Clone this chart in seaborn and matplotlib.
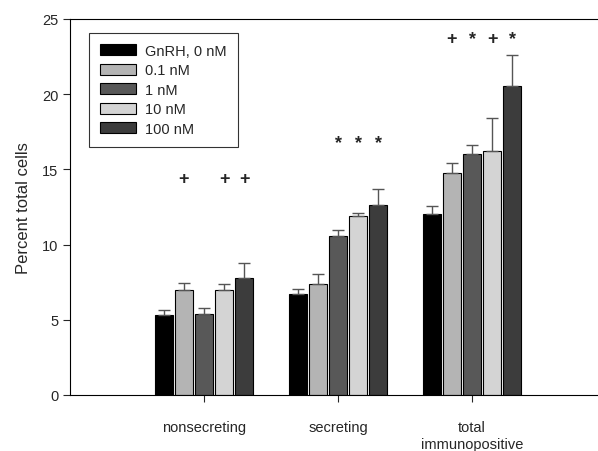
import matplotlib
matplotlib.use("Agg")
import matplotlib.pyplot as plt
import seaborn as sns
import pandas as pd
import numpy as np

sns.set_style("white")
plt.rcParams['font.family'] = ['Liberation Sans', 'DejaVu Sans']

categories = ["nonsecreting", "secreting", "total\nimmunopositive"]
doses = ["GnRH, 0 nM", "0.1 nM", "1 nM", "10 nM", "100 nM"]
means = {
    "GnRH, 0 nM": [5.3, 6.7, 12.0],
    "0.1 nM": [7.0, 7.4, 14.75],
    "1 nM": [5.4, 10.55, 16.0],
    "10 nM": [6.95, 11.9, 16.25],
    "100 nM": [7.8, 12.6, 20.55],
}
errors = {
    "GnRH, 0 nM": [0.32, 0.35, 0.55],
    "0.1 nM": [0.45, 0.65, 0.7],
    "1 nM": [0.35, 0.42, 0.6],
    "10 nM": [0.4, 0.2, 2.15],
    "100 nM": [1.0, 1.12, 2.05],
}
marks = {
    "GnRH, 0 nM": ["", "", ""],
    "0.1 nM": ["+", "", "+"],
    "1 nM": ["", "*", "*"],
    "10 nM": ["+", "*", "+"],
    "100 nM": ["+", "*", "*"],
}
mark_heights = [14.4, 16.8, 23.7]
colors = ["#000000", "#b4b4b4", "#585858", "#d4d4d4", "#3c3c3c"]

rows = []
for d in doses:
    for c, m in zip(categories, means[d]):
        rows.append({"cat": c, "dose": d, "value": m})
df = pd.DataFrame(rows)

fig = plt.figure(figsize=(5.98, 4.52), dpi=100)
ax = fig.add_axes([0.117, 0.124, 0.883, 0.832])

sns.barplot(data=df, x="cat", y="value", hue="dose", order=categories,
            hue_order=doses, palette=colors, width=0.75, gap=0.12,
            edgecolor="black", linewidth=0.8, errorbar=None, ax=ax)

for d, cont in zip(doses, ax.containers):
    xs = [p.get_x() + p.get_width() / 2 for p in cont.patches]
    ax.errorbar(xs, means[d], yerr=[np.zeros(3), errors[d]], fmt="none",
                ecolor="#555555", elinewidth=1.0, capsize=4, capthick=1.0)
    for x, m, h in zip(xs, marks[d], mark_heights):
        if m:
            ax.text(x, h, m, ha="center", va="center", fontsize=13,
                    fontweight="bold", zorder=10)

ax.set_ylim(0, 25)
ax.set_xlim(-1.0, 2.94)
ax.set_yticks([0, 5, 10, 15, 20, 25])
ax.set_ylabel("Percent total cells", fontsize=12, labelpad=8)
ax.set_xlabel("")
ax.tick_params(axis="y", direction="out", length=5, width=0.8, labelsize=10.5, left=True)
ax.tick_params(axis="x", direction="out", length=5, width=0.8, labelsize=10.5,
               bottom=True, pad=13)
for lab in ax.get_xticklabels():
    lab.set_linespacing(1.3)
for s in ["left", "top", "bottom"]:
    ax.spines[s].set_color("black")
    ax.spines[s].set_linewidth(0.8)
ax.spines["right"].set_visible(False)

leg = ax.legend(loc="upper left", bbox_to_anchor=(0.036, 0.963), borderaxespad=0,
                frameon=True, fancybox=False, edgecolor="black", fontsize=10.5,
                handlelength=2.5, handleheight=0.8, labelspacing=0.38,
                borderpad=0.75, handletextpad=0.6)
leg.get_frame().set_linewidth(0.8)

fig.savefig("out.png", dpi=100)
